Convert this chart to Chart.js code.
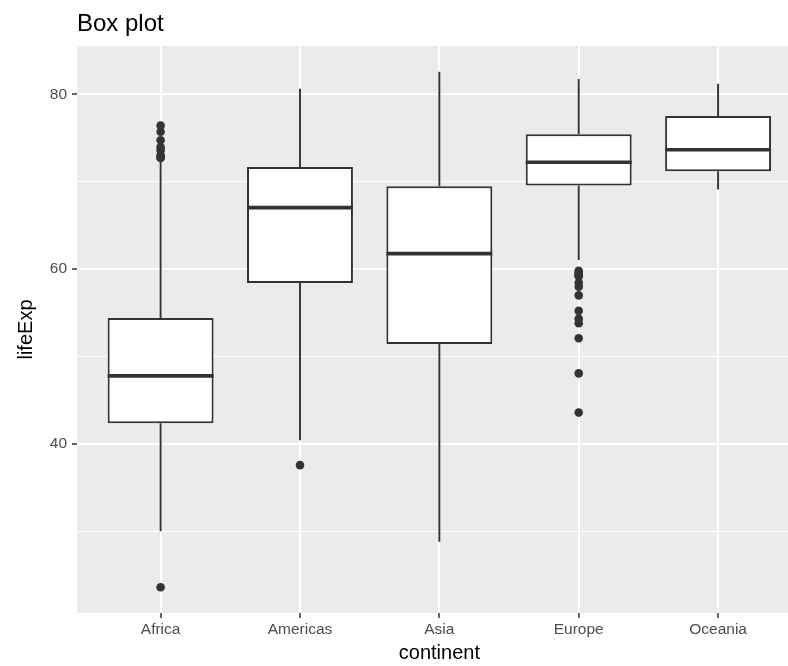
<!DOCTYPE html>
<html>
<head>
<meta charset="utf-8">
<script src="https://cdn.jsdelivr.net/npm/chart.js@4.4.1/dist/chart.umd.min.js"></script>
<style>
  html, body { margin: 0; padding: 0; background: #fff; overflow: hidden; }
  canvas { display: block; }
</style>
</head>
<body>
<canvas id="boxplot" width="806" height="666"></canvas>
<script>
// gapminder lifeExp por continente
const continents = ["Africa", "Americas", "Asia", "Europe", "Oceania"];
const lowerWhisker = [30.0, 40.41, 28.80, 61.05, 69.12];
const q1 = [42.37, 58.41, 51.43, 69.57, 71.21];
const median = [47.79, 67.05, 61.79, 72.24, 73.67];
const q3 = [54.41, 71.70, 69.51, 75.45, 77.55];
const upperWhisker = [72.30, 80.65, 82.60, 81.76, 81.24];
const outliers = [
  [23.60, 72.74, 72.80, 73.04, 73.62, 73.95, 74.77, 75.74, 76.44],
  [37.58],
  [],
  [43.59, 48.08, 52.10, 53.82, 54.34, 55.23, 57.01, 58.00, 58.45, 59.16, 59.28, 59.51, 59.60, 59.82],
  []
];
const yMajor = [40, 60, 80];
const yMinor = [30, 50, 70];

const FONT = '"Liberation Sans", Arial, Helvetica, sans-serif';
const INK = "#333333";

const boxes = continents.map((c, i) => ({ x: i + 1, y: [q1[i], q3[i]] }));
const points = [];
outliers.forEach((list, i) => list.forEach(v => points.push({ x: i + 1, y: v })));

const boxPlugin = {
  id: "boxExtras",
  beforeDraw(chart) {
    const a = chart.chartArea;
    const c = chart.ctx;
    c.save();
    c.fillStyle = "#EBEBEB";
    c.fillRect(a.left, a.top, a.right - a.left, a.bottom - a.top);
    c.restore();
  },
  beforeDatasetsDraw(chart) {
    // bigotes
    const c = chart.ctx;
    const xs = chart.scales.x, ys = chart.scales.y;
    c.save();
    c.strokeStyle = INK;
    c.lineWidth = 1.9;
    continents.forEach((name, i) => {
      const px = xs.getPixelForValue(i + 1);
      c.beginPath();
      c.moveTo(px, ys.getPixelForValue(lowerWhisker[i]));
      c.lineTo(px, ys.getPixelForValue(q1[i]));
      c.moveTo(px, ys.getPixelForValue(q3[i]));
      c.lineTo(px, ys.getPixelForValue(upperWhisker[i]));
      c.stroke();
    });
    c.restore();
  },
  afterDatasetsDraw(chart) {
    // medianas
    const c = chart.ctx;
    const ys = chart.scales.y;
    const bars = chart.getDatasetMeta(0).data;
    c.save();
    c.strokeStyle = INK;
    c.lineWidth = 3.6;
    bars.forEach((bar, i) => {
      const py = ys.getPixelForValue(median[i]);
      c.beginPath();
      c.moveTo(bar.x - bar.width / 2, py);
      c.lineTo(bar.x + bar.width / 2, py);
      c.stroke();
    });
    c.restore();
  },
  afterDraw(chart) {
    const c = chart.ctx;
    c.save();
    c.fillStyle = "#000";
    c.font = "24px " + FONT;
    c.textBaseline = "alphabetic";
    c.textAlign = "left";
    c.fillText("Box plot", chart.chartArea.left, 31);
    c.restore();
  }
};

new Chart(document.getElementById("boxplot"), {
  data: {
    datasets: [
      {
        type: "bar",
        data: boxes,
        backgroundColor: "#FFFFFF",
        borderColor: INK,
        borderWidth: 2,
        borderSkipped: false,
        categoryPercentage: 1,
        barPercentage: 0.76
      },
      {
        type: "scatter",
        data: points,
        backgroundColor: INK,
        borderWidth: 0,
        pointRadius: 4.3
      }
    ]
  },
  options: {
    responsive: false,
    animation: false,
    layout: { padding: { top: 46, right: 1, left: 0, bottom: 0 } },
    plugins: { legend: { display: false }, tooltip: { enabled: false } },
    scales: {
      x: {
        type: "linear",
        min: 0.4,
        max: 5.6,
        offset: false,
        afterBuildTicks: s => { s.ticks = continents.map((c, i) => ({ value: i + 1 })); },
        afterFit: s => { s.height = 53; },
        ticks: {
          autoSkip: false,
          maxRotation: 0,
          padding: 2,
          color: "#4D4D4D",
          font: { family: FONT, size: 15.5 },
          callback: v => continents[v - 1]
        },
        grid: { offset: false, color: "#FFFFFF", lineWidth: 2, tickColor: INK, tickWidth: 1.5, tickLength: 5 },
        border: { display: false },
        title: {
          display: true,
          text: "continent",
          color: "#000",
          font: { family: FONT, size: 20 },
          padding: { top: 0, bottom: 1 }
        }
      },
      y: {
        type: "linear",
        min: 20.65,
        max: 85.55,
        afterBuildTicks: s => {
          s.ticks = yMajor.concat(yMinor).sort((a, b) => a - b).map(v => ({ value: v }));
        },
        afterFit: s => { s.width = 77; },
        ticks: {
          autoSkip: false,
          padding: 5,
          color: "#4D4D4D",
          font: { family: FONT, size: 15.5 },
          callback: v => yMajor.includes(v) ? String(v) : ""
        },
        grid: {
          color: "#FFFFFF",
          lineWidth: ctx => yMajor.includes(ctx.tick.value) ? 2 : 1,
          tickColor: ctx => yMajor.includes(ctx.tick.value) ? INK : "rgba(0,0,0,0)",
          tickWidth: 1.5,
          tickLength: 5
        },
        border: { display: false },
        title: {
          display: true,
          text: "lifeExp",
          color: "#000",
          font: { family: FONT, size: 20 },
          padding: { top: 14, bottom: 0 }
        }
      }
    }
  },
  plugins: [boxPlugin]
});
</script>
</body>
</html>
